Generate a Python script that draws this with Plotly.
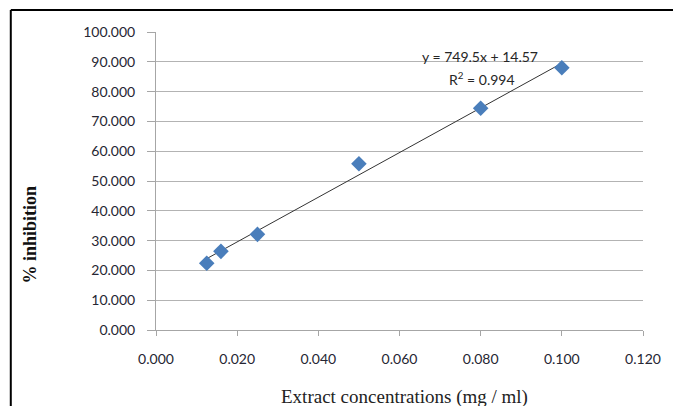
import plotly.graph_objects as go

conc = [0.0125, 0.016, 0.025, 0.050, 0.080, 0.100]
inhibition = [22.4, 26.4, 32.1, 55.8, 74.4, 88.0]
slope = 749.5
intercept = 14.57
x_ticks = [0.0, 0.02, 0.04, 0.06, 0.08, 0.10, 0.12]
y_ticks = [0, 10, 20, 30, 40, 50, 60, 70, 80, 90, 100]

W, H = 673, 406
L, R, T, B = 156, 24, 32, 76
pw, ph = W - L - R, H - T - B

def px(xp):
    return (xp - L) / pw

def py(yp):
    return (H - B - yp) / ph

tick_font = dict(family="Lato, 'Open Sans', sans-serif", size=14, color="#262633")

fig = go.Figure()
fit_x = [min(conc), max(conc)]
fit_y = [slope * v + intercept for v in fit_x]
fig.add_trace(go.Scatter(x=fit_x, y=fit_y, mode="lines",
                         line=dict(color="#333333", width=1), hoverinfo="skip"))
fig.add_trace(go.Scatter(x=conc, y=inhibition, mode="markers",
                         marker=dict(symbol="diamond", size=12, color="#4a7ebb")))

fig.update_layout(
    width=W, height=H, showlegend=False,
    margin=dict(l=L, r=R, t=T, b=B),
    paper_bgcolor="white", plot_bgcolor="white",
    xaxis=dict(range=[0, 0.12], tickvals=x_ticks,
               ticktext=[f"{v:.3f}" for v in x_ticks],
               showgrid=False, zeroline=False, showline=True,
               linecolor="#a6a6a6", linewidth=1,
               ticks="outside", ticklen=5, tickcolor="#a6a6a6",
               tickfont=tick_font, ticklabelstandoff=11),
    yaxis=dict(range=[0, 100], tickvals=y_ticks,
               ticktext=[f"{v:.3f}" for v in y_ticks],
               showgrid=True, gridcolor="#b3b3b3", gridwidth=1,
               zeroline=False, showline=True,
               linecolor="#a6a6a6", linewidth=1,
               ticks="outside", ticklen=8, tickcolor="#a6a6a6",
               tickfont=tick_font, ticklabelstandoff=9),
)

eq_font = dict(family="Lato, 'Open Sans', sans-serif", size=14, color="#262626")
serif = "'Liberation Serif', 'DejaVu Serif', serif"

def note(text, x, y, font, angle=0):
    fig.add_annotation(text=text, xref="paper", yref="paper",
                       x=px(x), y=py(y), xanchor="center", yanchor="middle",
                       showarrow=False, font=font, textangle=angle)

note("y = 749.5x + 14.57", 484, 56, eq_font)
note("R<sup>2</sup> = 0.994", 486, 78, eq_font)
note("Extract concentrations (mg / ml)", 408, 397,
     dict(family=serif, size=19, color="#222222"))
note("<b>% inhibition</b>", 28, 235,
     dict(family=serif, size=18, color="#111111"), angle=-90)

# outer frame (extends past the right and bottom edges of the picture)
fig.add_shape(type="line", xref="paper", yref="paper",
              x0=px(9), y0=py(10), x1=px(900), y1=py(10),
              line=dict(color="black", width=2), layer="below")
fig.add_shape(type="line", xref="paper", yref="paper",
              x0=px(9), y0=py(10), x1=px(9), y1=py(600),
              line=dict(color="black", width=2), layer="below")

fig.write_html("out.html")
